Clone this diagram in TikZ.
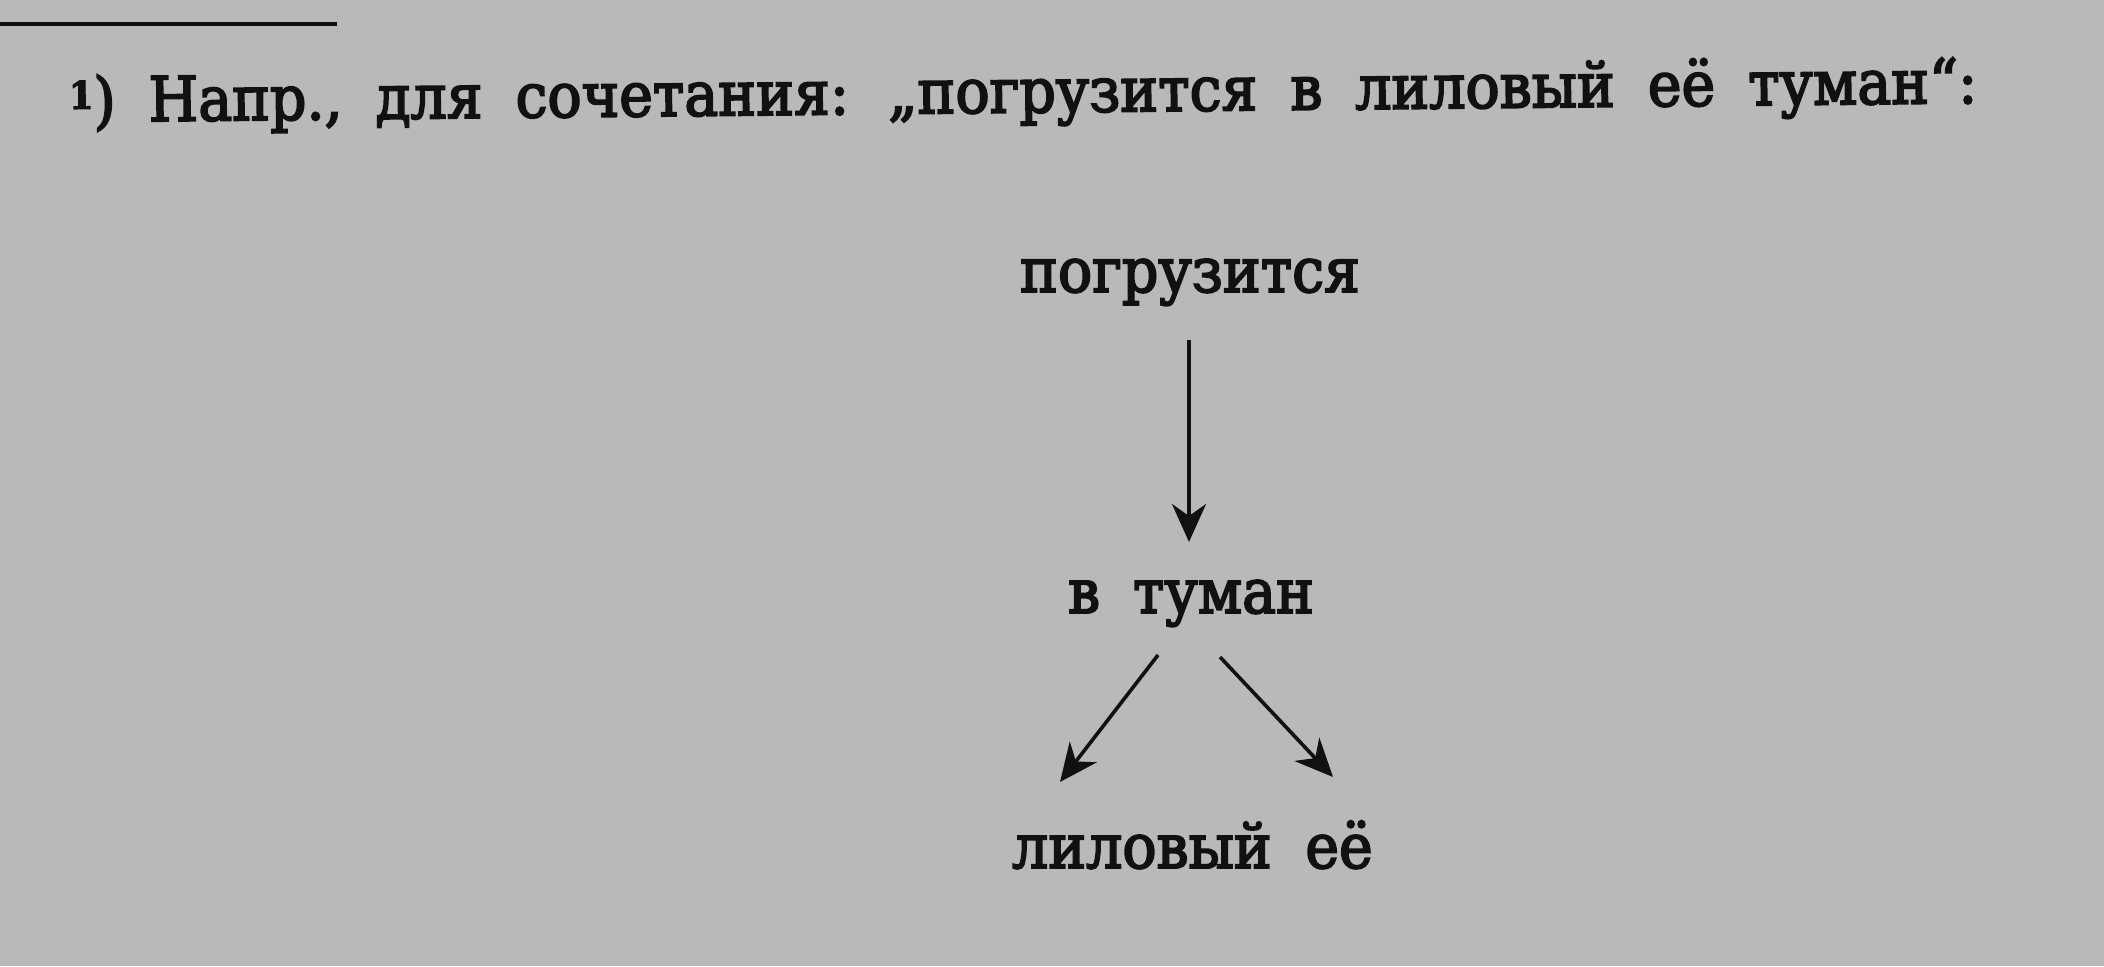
\documentclass[tikz,border=0pt]{standalone}
\usepackage{fontspec}
\setmainfont[FakeStretch=0.92,FakeBold=3]{DejaVu Serif}
\usetikzlibrary{arrows.meta,calc}
\definecolor{paper}{HTML}{B9B9B9}
\definecolor{ink}{HTML}{111111}
\newcommand{\widespace}{\spaceskip=16.5pt\relax}
\begin{document}
\begin{tikzpicture}[x=0.5pt,y=-0.5pt,
  txt/.style={font=\fontsize{30.9}{36}\selectfont, text=ink, inner sep=0pt, anchor=base,
    execute at begin node=\widespace},
  arr/.style={draw=ink, line width=1.8pt, -{Stealth[length=19pt,width=17pt,inset=6pt]}}]
\fill[paper] (0,0) rectangle (2104,966);
\useasboundingbox (0,0) rectangle (2104,966);
\draw[ink, line width=2pt] (0,24) -- (337,24);
\node[txt, anchor=base west, rotate=0.57] (h) at (69,122)
  {\raisebox{6.5pt}{\fontsize{19}{19}\selectfont\bfseries 1})\ Напр., для сочетания: „погрузится в лиловый её туман“:};
\node[txt] (p) at (1190,292) {погрузится};
\node[txt] (t) at (1191,613) {в туман};
\node[txt] (l) at (1142,868) {лиловый};
\node[txt] (e) at (1339,868) {её};
\draw[arr] ($(p.base)+(-1,48)$) -- ($(t.base)+(-2,-71)$);
\draw[arr] ($(t.base)+(-33,42)$) -- ($(l.base)+(-82,-86)$);
\draw[arr] ($(t.base)+(29,44)$) -- ($(e.base)+(-6,-91)$);
\end{tikzpicture}
\end{document}
